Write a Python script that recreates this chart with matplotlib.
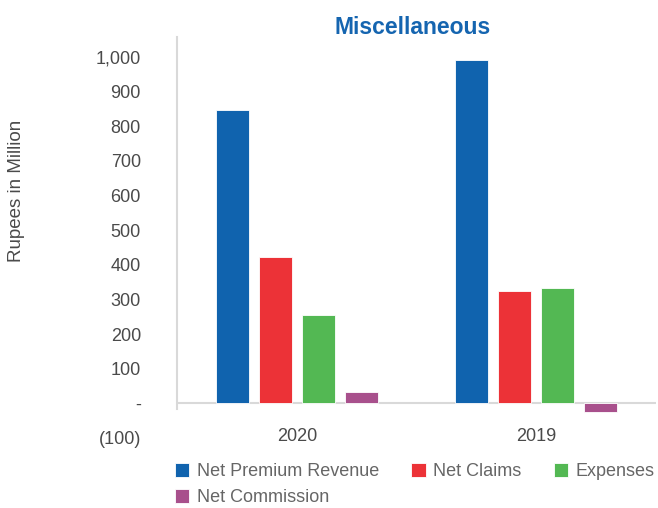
import numpy as np
import matplotlib.pyplot as plt
from matplotlib.ticker import FuncFormatter

plt.rcParams['font.family'] = ['Liberation Sans', 'DejaVu Sans']

years = ['2020', '2019']
series = ['Net Premium Revenue', 'Net Claims', 'Expenses', 'Net Commission']
net_premium = [847, 992]
net_claims = [423, 324]
expenses = [256, 333]
net_commission = [32, -25]
colors = ['#1063AE', '#EC3237', '#53B853', '#A8508C']

fig = plt.figure(figsize=(6.58, 5.08), dpi=100)
ax = fig.add_axes([177/658, 1-438/508, (656-177)/658, (438-37)/508])

x = np.arange(len(years))
w = 0.138
step = 0.18
bars = []
for i, (vals, c, lab) in enumerate(zip([net_premium, net_claims, expenses, net_commission], colors, series)):
    b = ax.bar(x + (i - 1.5)*step, vals, w, color=c, label=lab,
               edgecolor='white', linewidth=0.6)
    bars.append(b)

ax.set_xlim(-0.5, 1.5)
ax.set_ylim(-100, 1058)
ax.set_yticks(np.arange(-100, 1001, 100))

def fmt(v, pos):
    v = int(round(v))
    if v == 0:
        return '-'
    if v < 0:
        return '({:,})'.format(-v)
    return '{:,}'.format(v)

ax.yaxis.set_major_formatter(FuncFormatter(fmt))
ax.set_xticks(x)
ax.set_xticklabels(years)
ax.tick_params(axis='y', length=0, pad=26, labelsize=13, labelcolor='#4a4a4a')
ax.tick_params(axis='x', length=0, pad=-7, labelsize=13, labelcolor='#4a4a4a')

for s in ['top', 'right', 'bottom']:
    ax.spines[s].set_visible(False)
ax.spines['left'].set_color('#D9D9D9')
ax.spines['left'].set_linewidth(1.5)
ax.spines['left'].set_bounds(-15, 1058)
ax.axhline(0, color='#D9D9D9', linewidth=1.5, zorder=0)

fig.text(413/658, 1-27/508, 'Miscellaneous', ha='center', va='center',
         fontsize=16.5, fontweight='bold', color='#1565B0')
fig.text(17/658, 1-191/508, 'Rupees in Million', rotation=90, ha='center',
         va='center', fontsize=13.5, color='#4a4a4a')

handles = [bars[0], bars[3], bars[1], bars[2]]
labels = [series[0], series[3], series[1], series[2]]
leg = fig.legend(handles, labels, ncol=3, loc='upper left',
                 bbox_to_anchor=(175/658, 1-463/508), frameon=False,
                 fontsize=13, handlelength=0.8, handleheight=0.8,
                 handletextpad=0.4, columnspacing=1.8, labelspacing=0.5,
                 borderaxespad=0, borderpad=0)
for t in leg.get_texts():
    t.set_color('#666666')

fig.savefig('out.png', dpi=100)
